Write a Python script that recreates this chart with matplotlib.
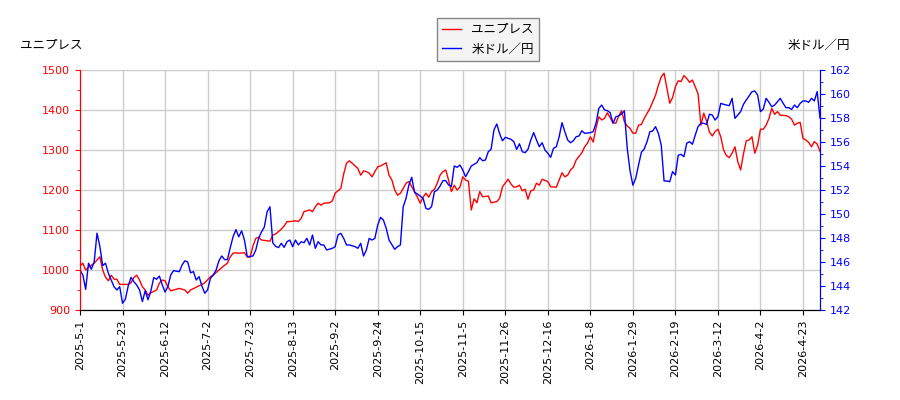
import numpy as np
import matplotlib
matplotlib.use('Agg')
import matplotlib.pyplot as plt
from matplotlib.ticker import MultipleLocator

plt.rcParams['font.family'] = ['DejaVu Sans', 'Noto Sans CJK JP']

# tick labels every 15 trading days
date_labels = ['2025-5-1', '2025-5-23', '2025-6-12', '2025-7-2', '2025-7-23', '2025-8-13',
               '2025-9-2', '2025-9-24', '2025-10-15', '2025-11-5', '2025-11-26', '2025-12-16',
               '2026-1-8', '2026-1-29', '2026-2-19', '2026-3-12', '2026-4-2', '2026-4-23']

# ユニプレス (left axis)
uni_idx = [0, 1, 2, 3, 5, 6, 7, 8, 9, 10, 11, 12, 13, 14, 17, 18, 19, 20, 21, 22, 23, 24, 25, 27,
           28, 29, 30, 31, 32, 35, 37, 38, 39, 41, 43, 44, 46, 47, 49, 51, 52, 53, 54, 55, 56, 58,
           59, 60, 61, 62, 63, 64, 66, 67, 68, 69, 71, 72, 73, 74, 76, 77, 78, 79, 81, 82, 83, 84,
           85, 86, 88, 89, 90, 92, 93, 94, 95, 96, 98, 99, 100, 101, 102, 103, 104, 105, 106, 108,
           109, 110, 111, 112, 113, 114, 115, 116, 117, 118, 119, 120, 121, 122, 123, 124, 125,
           126, 127, 128, 129, 130, 131, 132, 133, 134, 135, 136, 137, 138, 139, 140, 141, 142,
           144, 145, 147, 148, 149, 151, 152, 153, 154, 155, 156, 157, 158, 159, 160, 161, 162,
           163, 165, 166, 168, 169, 170, 171, 172, 173, 174, 175, 177, 178, 179, 180, 181, 182,
           183, 184, 185, 186, 188, 189, 190, 191, 192, 193, 194, 195, 196, 197, 198, 199, 201,
           203, 204, 205, 206, 207, 208, 209, 210, 211, 212, 213, 214, 215, 216, 217, 218, 219,
           220, 221, 222, 223, 224, 225, 226, 227, 228, 229, 230, 231, 232, 233, 234, 235, 236,
           237, 238, 239, 240, 241, 242, 243, 244, 245, 246, 247, 249, 250, 251, 252, 253, 254,
           255, 256, 257, 258, 259, 260, 261]
uni_val = [1010, 1017, 1000, 1007, 1017, 1025, 1033, 1000, 982, 973, 987, 977, 977, 964, 964, 968,
           981, 987, 975, 958, 950, 937, 943, 950, 967, 975, 973, 958, 948, 954, 950, 942, 950,
           957, 964, 968, 983, 987, 1000, 1012, 1017, 1033, 1042, 1043, 1042, 1043, 1033, 1032,
           1060, 1079, 1082, 1075, 1073, 1072, 1087, 1090, 1102, 1110, 1121, 1121, 1123, 1121,
           1129, 1146, 1150, 1146, 1158, 1167, 1162, 1167, 1168, 1173, 1192, 1204, 1240, 1267,
           1273, 1267, 1254, 1237, 1248, 1246, 1242, 1233, 1246, 1258, 1260, 1268, 1237, 1225,
           1200, 1187, 1192, 1204, 1217, 1221, 1208, 1196, 1182, 1167, 1182, 1192, 1182, 1196,
           1202, 1217, 1237, 1246, 1250, 1225, 1196, 1212, 1200, 1207, 1233, 1225, 1222, 1150,
           1178, 1168, 1196, 1183, 1185, 1168, 1171, 1179, 1208, 1227, 1215, 1207, 1208, 1212,
           1198, 1202, 1177, 1198, 1200, 1217, 1212, 1227, 1221, 1208, 1207, 1225, 1243, 1233,
           1237, 1250, 1257, 1275, 1293, 1308, 1317, 1333, 1320, 1355, 1383, 1375, 1379, 1393,
           1368, 1367, 1385, 1398, 1371, 1360, 1354, 1342, 1342, 1362, 1364, 1379, 1404, 1437,
           1462, 1483, 1492, 1455, 1417, 1431, 1458, 1473, 1471, 1486, 1479, 1469, 1475, 1458,
           1440, 1362, 1392, 1372, 1345, 1335, 1346, 1352, 1333, 1300, 1286, 1281, 1292, 1308,
           1271, 1250, 1290, 1323, 1325, 1333, 1292, 1312, 1352, 1352, 1362, 1379, 1404, 1389,
           1396, 1387, 1386, 1383, 1377, 1362, 1367, 1369, 1329, 1325, 1319, 1308, 1321, 1315,
           1297]

# 米ドル／円 (right axis)
usd_idx = [0, 1, 2, 3, 4, 5, 6, 7, 8, 9, 10, 11, 12, 13, 14, 15, 16, 17, 18, 19, 20, 21, 22, 23,
           24, 25, 26, 27, 28, 29, 30, 31, 32, 33, 35, 36, 37, 38, 39, 40, 41, 42, 43, 44, 45, 46,
           47, 48, 49, 50, 51, 52, 53, 54, 55, 56, 57, 58, 59, 61, 62, 63, 64, 65, 66, 67, 68, 69,
           70, 71, 72, 73, 74, 75, 76, 77, 78, 79, 80, 81, 82, 83, 84, 85, 86, 87, 89, 90, 91, 92,
           93, 94, 95, 97, 98, 99, 100, 101, 102, 103, 104, 105, 106, 107, 108, 109, 111, 112, 113,
           114, 115, 116, 117, 118, 119, 121, 122, 123, 124, 125, 126, 127, 128, 129, 130, 131,
           132, 133, 134, 135, 136, 137, 138, 140, 141, 142, 143, 144, 145, 146, 147, 148, 149,
           150, 152, 153, 154, 155, 156, 157, 158, 159, 160, 161, 162, 163, 164, 165, 166, 167,
           168, 169, 170, 171, 172, 173, 174, 175, 176, 177, 178, 180, 181, 182, 183, 184, 185,
           186, 187, 188, 189, 190, 191, 192, 193, 194, 195, 196, 197, 198, 199, 200, 201, 202,
           203, 204, 205, 206, 207, 208, 209, 210, 211, 212, 213, 214, 215, 216, 217, 218, 219,
           220, 221, 222, 223, 224, 225, 226, 227, 228, 229, 230, 231, 232, 233, 234, 235, 237,
           238, 239, 240, 241, 242, 243, 244, 245, 246, 247, 248, 249, 250, 251, 252, 253, 254,
           255, 256, 257, 258, 259, 260, 261]
usd_val = [145.33, 144.92, 143.72, 145.9, 145.4, 146.0, 148.4, 147.3, 145.7, 145.9, 145.06, 144.5,
           143.94, 143.67, 143.94, 142.56, 142.9, 144.0, 144.72, 144.36, 144.08, 143.67, 142.7,
           143.6, 142.85, 143.6, 144.7, 144.56, 144.83, 144.1, 143.5, 143.94, 144.92, 145.28,
           145.19, 145.75, 146.1, 146.0, 145.1, 145.2, 144.5, 144.78, 144.0, 143.4, 143.67,
           144.64, 144.92, 145.33, 146.1, 146.5, 146.2, 146.2, 147.2, 148.11, 148.7, 148.1, 148.6,
           147.83, 146.44, 146.5, 147.0, 147.97, 148.5, 148.9, 150.19, 150.6, 147.6, 147.3, 147.2,
           147.56, 147.22, 147.69, 147.83, 147.28, 147.83, 147.42, 147.69, 147.61, 147.97, 147.42,
           148.25, 147.14, 147.69, 147.42, 147.42, 147.0, 147.14, 147.28, 148.25, 148.39, 147.97,
           147.42, 147.42, 147.28, 147.14, 147.56, 146.5, 147.0, 147.97, 147.83, 147.97, 149.08,
           149.72, 149.5, 148.81, 147.83, 147.06, 147.28, 147.42, 150.61, 151.31, 152.42, 153.06,
           151.8, 151.67, 151.31, 150.47, 150.39, 150.61, 151.86, 152.0, 152.33, 152.78, 152.78,
           152.42, 152.3, 154.0, 153.89, 154.08, 153.67, 153.11, 153.53, 154.0, 154.28, 154.7,
           154.44, 154.5, 155.19, 155.4, 157.0, 157.5, 156.7, 156.1, 156.39, 156.22, 156.03,
           155.39, 155.85, 155.19, 155.11, 155.39, 156.17, 156.78, 156.17, 155.61, 155.94, 155.33,
           155.06, 154.72, 155.47, 155.61, 156.44, 157.61, 156.86, 156.17, 155.94, 156.11, 156.44,
           156.5, 156.94, 156.72, 156.78, 156.86, 157.56, 158.81, 159.08, 158.67, 158.61, 158.44,
           157.56, 158.11, 158.17, 158.33, 158.6, 155.5, 153.6, 152.4, 152.97, 154.08, 155.14,
           155.42, 156.03, 156.86, 156.92, 157.28, 156.72, 155.75, 152.75, 152.75, 152.69, 153.53,
           153.25, 154.9, 154.97, 154.78, 155.89, 156.03, 155.81, 156.58, 157.28, 157.56, 157.56,
           157.47, 158.31, 158.25, 157.83, 158.11, 159.22, 159.14, 159.08, 159.03, 159.64, 157.97,
           158.25, 158.53, 159.14, 159.5, 160.19, 160.25, 159.92, 158.53, 158.75, 159.64, 159.31,
           158.94, 159.08, 159.36, 159.64, 159.22, 158.86, 158.86, 158.72, 159.08, 158.86, 159.22,
           159.42, 159.42, 159.31, 159.64, 159.42, 160.2, 158.0]

fig = plt.figure(figsize=(9, 4), dpi=100)
ax1 = fig.add_axes([80 / 900, 90 / 400, 740 / 900, 240 / 400])
ax2 = ax1.twinx()

l1, = ax1.plot(uni_idx, uni_val, color='red', lw=1, label='ユニプレス')
l2, = ax2.plot(usd_idx, usd_val, color='blue', lw=1, label='米ドル／円')

ax1.set_xlim(0, 261)
ax1.set_ylim(900, 1500)
ax2.set_ylim(142, 162)
ax1.set_xticks(range(0, 15 * len(date_labels), 15))
ax1.set_xticklabels(date_labels, rotation=90, fontsize=8)
ax1.yaxis.set_major_locator(MultipleLocator(100))
ax1.yaxis.set_minor_locator(MultipleLocator(50))
ax2.yaxis.set_major_locator(MultipleLocator(2))
ax2.yaxis.set_minor_locator(MultipleLocator(1))

ax1.tick_params(axis='y', colors='red', labelsize=8)
ax1.tick_params(axis='y', which='minor', colors='red')
ax2.tick_params(axis='y', colors='blue', labelsize=8)
ax2.tick_params(axis='y', which='minor', colors='blue')

ax1.grid(True, color='#cccccc', lw=1)
ax1.set_axisbelow(True)

for ax in (ax1, ax2):
    ax.spines['top'].set_visible(False)
ax2.spines['left'].set_color('red')
ax2.spines['right'].set_color('blue')
ax1.spines['left'].set_color('red')

fig.text(20 / 900, 1 - 45 / 400, 'ユニプレス', fontsize=9, va='center', ha='left')
fig.text(850 / 900, 1 - 45 / 400, '米ドル／円', fontsize=9, va='center', ha='right')

fig.legend(handles=[l1, l2], loc='upper center', bbox_to_anchor=(488 / 900, 0.97),
           fontsize=9, fancybox=False, edgecolor='#888888', facecolor='#f4f4f4',
           framealpha=1, handlelength=1.5)

fig.savefig('out.png', dpi=100)
